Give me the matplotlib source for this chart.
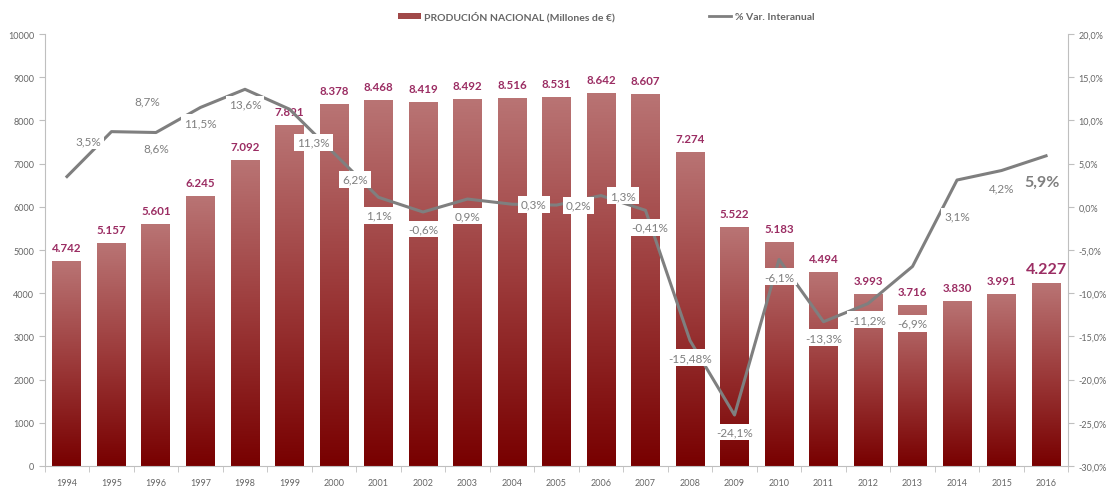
import numpy as np
import matplotlib
matplotlib.use('Agg')
import matplotlib.pyplot as plt
from matplotlib.colors import LinearSegmentedColormap
from matplotlib.patches import Patch
from matplotlib.lines import Line2D

# Datos del grafico
anios = ['1994', '1995', '1996', '1997', '1998', '1999', '2000', '2001', '2002', '2003', '2004',
         '2005', '2006', '2007', '2008', '2009', '2010', '2011', '2012', '2013', '2014', '2015', '2016']
produccion = [4742, 5157, 5601, 6245, 7092, 7891, 8378, 8468, 8419, 8492, 8516,
              8531, 8642, 8607, 7274, 5522, 5183, 4494, 3993, 3716, 3830, 3991, 4227]
variacion = [3.5, 8.7, 8.6, 11.5, 13.6, 11.3, 6.2, 1.1, -0.6, 0.9, 0.3,
             0.2, 1.3, -0.41, -15.48, -24.1, -6.1, -13.3, -11.2, -6.9, 3.1, 4.2, 5.9]

# posicion de las etiquetas de % (pixeles respecto al punto)
offsets_pct = [(21, 36), (36, 31), (0, -15), (0, -15), (0, -15), (24, -33), (21, -26), (0, -18),
               (0, -17), (0, -17), (22, 0), (22, 0), (22, 0), (4, -17), (0, -17), (0, -17),
               (0, -17), (0, -16), (0, -16), (0, -57), (0, -36), (0, -17), (-4, -26)]

gris = '#7f7f7f'
gris_txt = '#666666'
morado = '#9b2d63'

plt.rcParams['font.family'] = ['Lato', 'DejaVu Sans']

fig = plt.figure(figsize=(11.12, 4.89), dpi=100)
ax = fig.add_axes([0.0402, 0.045, 0.9205, 0.8834])
x = np.arange(len(anios))

bars = ax.bar(x, produccion, width=0.65, color='none', zorder=2)
cmap = LinearSegmentedColormap.from_list('barra', ['#780000', '#9c3a3a', '#b97474'])
grad = np.linspace(0, 1, 256).reshape(-1, 1)
for b in bars:
    x0, w, h = b.get_x(), b.get_width(), b.get_height()
    im = ax.imshow(grad, extent=[x0, x0 + w, 0, h], origin='lower', cmap=cmap,
                   aspect='auto', zorder=2)
    im.set_clip_path(b)

ax.set_xlim(-0.5, len(anios) - 0.5)
ax.set_ylim(0, 10000)
ax.set_yticks(range(0, 10001, 1000))
ax.set_xticks(x)
ax.set_xticklabels(anios)
ax.set_xticks(np.arange(-0.5, len(anios), 1), minor=True)
ax.tick_params(axis='x', which='major', length=0, labelsize=6.5, labelcolor=gris_txt, pad=9)
ax.tick_params(axis='x', which='minor', length=4, color='#bfbfbf')
ax.tick_params(axis='y', length=4, color='#bfbfbf', labelsize=6.5, labelcolor=gris_txt)
for s in ['top', 'right']:
    ax.spines[s].set_visible(False)
for s in ['left', 'bottom']:
    ax.spines[s].set_color('#bfbfbf')

# etiquetas de produccion
for i, v in enumerate(produccion):
    ultimo = i == len(produccion) - 1
    ax.annotate(f"{v:,}".replace(',', '.'), (i, v), xytext=(0, 8 if not ultimo else 7),
                textcoords='offset pixels', ha='center', va='bottom',
                fontsize=11.5 if ultimo else 8.3, fontweight='bold', color=morado, zorder=3)

ax2 = ax.twinx()
ax2.plot(x, variacion, color=gris, lw=2.2, zorder=3)
ax2.set_ylim(-30, 20)
ax2.set_yticks(range(-30, 21, 5))
ax2.set_yticklabels([f"{v:.1f}%".replace('.', ',') for v in range(-30, 21, 5)])
ax2.tick_params(axis='y', length=4, color='#bfbfbf', labelsize=6.5, labelcolor=gris_txt)
for s in ['top', 'left', 'bottom']:
    ax2.spines[s].set_visible(False)
ax2.spines['right'].set_color('#bfbfbf')

for i, v in enumerate(variacion):
    ultimo = i == len(variacion) - 1
    txt = f"{v:g}".replace('.', ',') + '%'
    ax2.annotate(txt, (i, v), xytext=offsets_pct[i], textcoords='offset pixels',
                 ha='center', va='center', fontsize=11.5 if ultimo else 8.5, color=gris,
                 fontweight='bold' if ultimo else 'normal', zorder=5,
                 bbox=dict(boxstyle='square,pad=0.25', fc='white', ec='none'))

handles = [Patch(facecolor='#a04848', edgecolor='none'),
           Line2D([], [], color=gris, lw=2)]
fig.legend(handles, ['PRODUCIÓN NACIONAL (Millones de €)', '% Var. Interanual'],
           loc='center', bbox_to_anchor=(0.545, 0.965), ncol=2, frameon=False,
           prop={'size': 7.5, 'weight': 'bold'}, labelcolor=gris_txt,
           handlelength=2.2, handleheight=0.5, handletextpad=0.3, columnspacing=9)

fig.savefig('out.png', dpi=100, facecolor='white')
